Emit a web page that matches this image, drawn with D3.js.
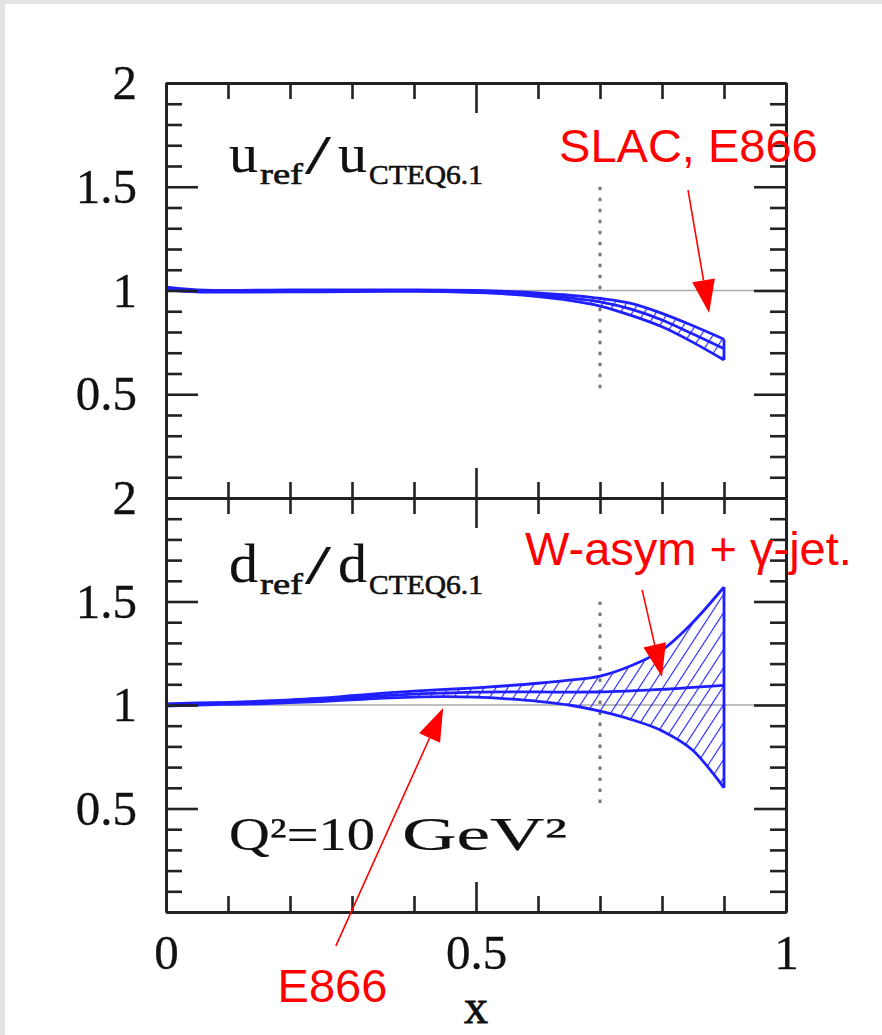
<!DOCTYPE html>
<html><head><meta charset="utf-8">
<script src="https://cdn.jsdelivr.net/npm/d3@7"></script>
<style>
html,body{margin:0;padding:0;background:#fff;}
svg{display:block;}
</style></head>
<body>
<svg id="chart" width="882" height="1035"></svg>
<script>
// ---------- data ----------
const xMajorTicks = [0, 0.5, 1];
const xMajorLabels = ["0", "0.5", "1"];
const yMajorTicks = [0.5, 1, 1.5, 2];
const yMajorLabels = ["0.5", "1", "1.5", "2"];

// u_ref / u_CTEQ6.1 band
const uX      = [0,     0.05,  0.1,   0.2,   0.3,   0.4,   0.5,   0.55,  0.6,   0.65,  0.7,   0.75,  0.8,   0.85,  0.9];
const uUpper  = [1.016, 1.003, 1.0,   1.003, 1.003, 1.003, 1.0,   0.996, 0.988, 0.978, 0.962, 0.938, 0.89,  0.83,  0.765];
const uCenter = [1.01,  0.998, 0.996, 0.998, 0.999, 1.0,   0.996, 0.99,  0.98,  0.965, 0.945, 0.91,  0.858, 0.79,  0.72];
const uLower  = [1.004, 0.993, 0.992, 0.993, 0.995, 0.996, 0.99,  0.983, 0.97,  0.952, 0.925, 0.88,  0.825, 0.75,  0.665];

// d_ref / d_CTEQ6.1 band
const dX      = [0,     0.05,  0.1,   0.15,  0.2,   0.25,  0.3,   0.35,  0.4,   0.45,  0.5,   0.55,  0.6,   0.65,  0.7,   0.75,  0.8,   0.85,  0.9];
const dUpper  = [1.005, 1.01,  1.013, 1.018, 1.025, 1.033, 1.045, 1.057, 1.067, 1.075, 1.083, 1.093, 1.105, 1.12,  1.14,  1.19,  1.265, 1.4,   1.57];
const dCenter = [1.0,   1.005, 1.008, 1.012, 1.018, 1.025, 1.035, 1.045, 1.053, 1.058, 1.062, 1.063, 1.063, 1.062, 1.063, 1.068, 1.075, 1.085, 1.095];
const dLower  = [0.995, 1.0,   1.003, 1.006, 1.011, 1.017, 1.025, 1.033, 1.038, 1.04,  1.038, 1.03,  1.018, 1.0,   0.97,  0.93,  0.875, 0.78,  0.6];

const cutX = 0.7;              // dotted vertical marker
const cutRange = [0.5, 1.5];

// annotation arrows (data units of their panel)
const annotations = [
  {text: "SLAC, E866",           panel: "u", tx: 0.634, ty: 1.62,   from: [0.842, 1.484],  to: [0.876, 0.892]},
  {text: "W-asym + \u03B3-jet.", panel: "d", tx: 0.579, ty: 1.675,  from: [0.768, 1.556],  to: [0.80, 1.135]},
  {text: "E866",                 panel: "d", tx: 0.18,  ty: -0.435, from: [0.274, -0.164], to: [0.447, 0.986]}
];

// ---------- layout ----------
const svg = d3.select("#chart");
const L = 166, R = 786;
const x = d3.scaleLinear().domain([0, 1]).range([L, R]);
const yU = d3.scaleLinear().domain([0, 2]).range([498, 83]);
const yD = d3.scaleLinear().domain([0, 2]).range([912, 498]);
const blue = "#1f1fff";
const ink = "#111";
const serif = "'Liberation Serif', 'Times New Roman', serif";
const sans = "'Liberation Sans', Arial, sans-serif";

// paper-like border
svg.append("rect").attr("x", 0).attr("y", 0).attr("width", 882).attr("height", 1035).attr("fill", "#fff");
svg.append("rect").attr("x", 0).attr("y", 0).attr("width", 5).attr("height", 1035).attr("fill", "#e4e4e4");
svg.append("rect").attr("x", 0).attr("y", 0).attr("width", 882).attr("height", 4).attr("fill", "#e4e4e4");

// hatch pattern
const defs = svg.append("defs");
const pat = defs.append("pattern").attr("id", "hatch").attr("patternUnits", "userSpaceOnUse")
  .attr("width", 10).attr("height", 10).attr("patternTransform", "rotate(33)");
pat.append("line").attr("x1", 0).attr("y1", 0).attr("x2", 0).attr("y2", 10)
  .attr("stroke", blue).attr("stroke-width", 2.2);

const minorX = d3.range(0, 1.0001, 0.1).map(v => +v.toFixed(2)).filter(v => !xMajorTicks.some(m => Math.abs(m - v) < 1e-6));
const minorY = d3.range(0, 2.0001, 0.1).map(v => +v.toFixed(2)).filter(v => !yMajorTicks.concat([0]).some(m => Math.abs(m - v) < 1e-6));

function styleAxis(g) {
  g.select(".domain").attr("stroke", "#222").attr("stroke-width", 2.8);
  g.selectAll(".tick line").attr("stroke", "#222").attr("stroke-width", 2.6);
  g.selectAll("text").attr("fill", ink).attr("font-family", serif).attr("font-size", 49)
    .attr("stroke", ink).attr("stroke-width", 0.3);
}

function drawPanel(y, xs, up, ce, lo, showX) {
  const y0 = y.range()[0], y1 = y.range()[1];
  svg.append("line").attr("x1", x(0)).attr("x2", x(1)).attr("y1", y(1)).attr("y2", y(1))
    .attr("stroke", "#aaa").attr("stroke-width", 1.6);
  svg.append("line").attr("x1", x(cutX)).attr("x2", x(cutX)).attr("y1", y(cutRange[1])).attr("y2", y(cutRange[0]))
    .attr("stroke", "#777").attr("stroke-width", 3).attr("stroke-dasharray", "3.5,7.5");

  const pts = xs.map((v, i) => ({x: v, u: up[i], c: ce[i], l: lo[i]}));
  const area = d3.area().x(d => x(d.x)).y0(d => y(d.l)).y1(d => y(d.u)).curve(d3.curveMonotoneX);
  svg.append("path").datum(pts).attr("d", area).attr("fill", "url(#hatch)").attr("stroke", "none");
  ["u", "c", "l"].forEach(k => {
    const line = d3.line().x(d => x(d.x)).y(d => y(d[k])).curve(d3.curveMonotoneX);
    svg.append("path").datum(pts).attr("d", line).attr("fill", "none")
      .attr("stroke", blue).attr("stroke-width", 2.8);
  });
  const last = pts[pts.length - 1];
  svg.append("line").attr("x1", x(last.x)).attr("x2", x(last.x)).attr("y1", y(last.u)).attr("y2", y(last.l))
    .attr("stroke", blue).attr("stroke-width", 2.8);

  svg.append("g").attr("transform", `translate(${L},0)`)
    .call(d3.axisLeft(y).tickValues(minorY).tickSize(-16).tickSizeOuter(0).tickFormat(""))
    .call(styleAxis);
  svg.append("g").attr("transform", `translate(${L},0)`)
    .call(d3.axisLeft(y).tickValues(yMajorTicks).tickSize(-32).tickSizeOuter(0).tickPadding(29)
      .tickFormat((d, i) => yMajorLabels[i]))
    .call(styleAxis);
  svg.append("g").attr("transform", `translate(${R},0)`)
    .call(d3.axisRight(y).tickValues(minorY).tickSize(-16).tickSizeOuter(0).tickFormat(""))
    .call(styleAxis);
  svg.append("g").attr("transform", `translate(${R},0)`)
    .call(d3.axisRight(y).tickValues(yMajorTicks).tickSize(-32).tickSizeOuter(0).tickFormat(""))
    .call(styleAxis);
  svg.append("g").attr("transform", `translate(0,${y1})`)
    .call(d3.axisTop(x).tickValues(minorX).tickSize(-16).tickSizeOuter(0).tickFormat(""))
    .call(styleAxis);
  svg.append("g").attr("transform", `translate(0,${y1})`)
    .call(d3.axisTop(x).tickValues(xMajorTicks).tickSize(-30).tickSizeOuter(0).tickFormat(""))
    .call(styleAxis);
  svg.append("g").attr("transform", `translate(0,${y0})`)
    .call(d3.axisBottom(x).tickValues(minorX).tickSize(-16).tickSizeOuter(0).tickFormat(""))
    .call(styleAxis);
  svg.append("g").attr("transform", `translate(0,${y0})`)
    .call(d3.axisBottom(x).tickValues(xMajorTicks).tickSize(-30).tickSizeOuter(0).tickPadding(22)
      .tickFormat((d, i) => showX ? xMajorLabels[i] : ""))
    .call(styleAxis);
}

drawPanel(yU, uX, uUpper, uCenter, uLower, false);
drawPanel(yD, dX, dUpper, dCenter, dLower, true);

// text helper (serif)
function stext(str, px, py, size, opts = {}) {
  const t = svg.append("text").attr("x", px).attr("y", py).attr("font-family", serif)
    .attr("font-size", size).attr("fill", ink).attr("stroke", ink).attr("stroke-width", opts.sw ?? 0.2)
    .text(str);
  if (opts.len) t.attr("textLength", opts.len).attr("lengthAdjust", "spacingAndGlyphs");
  if (opts.anchor) t.attr("text-anchor", opts.anchor);
  return t;
}

function ratioLabel(letter, baseY) {
  stext(letter, 229, baseY, 54, {len: 29});
  stext("ref", 260, baseY + 12, 30, {len: 43, sw: 0.6});
  stext("/", 305, baseY + 1, 54, {len: 26});
  stext(letter, 338, baseY, 54, {len: 29});
  stext("CTEQ6.1", 369, baseY + 12, 27, {len: 114, sw: 0.6});
}
ratioLabel("u", 172);
ratioLabel("d", 582);

stext("Q\u00B2=10", 229, 850, 46, {len: 146});
stext("GeV\u00B2", 402, 850, 46, {len: 165});

stext("x", x(0.5), 1023, 48, {anchor: "middle", sw: 0.8});

// annotations
annotations.forEach(a => {
  const y = a.panel === "u" ? yU : yD;
  const sx = x(a.from[0]), sy = y(a.from[1]), tx = x(a.to[0]), ty = y(a.to[1]);
  const dx = sx - tx, dy = sy - ty, len = Math.hypot(dx, dy);
  const ux = dx / len, uy = dy / len;
  const hl = 33, hw = 11.5;
  const bx = tx + ux * hl, by = ty + uy * hl;
  svg.append("line").attr("x1", sx).attr("y1", sy).attr("x2", bx).attr("y2", by)
    .attr("stroke", "#ff0000").attr("stroke-width", 1.6);
  svg.append("path").attr("d", `M${tx},${ty}L${bx - uy * hw},${by + ux * hw}L${bx + uy * hw},${by - ux * hw}Z`)
    .attr("fill", "#ff0000");
  svg.append("text").attr("x", x(a.tx)).attr("y", y(a.ty)).attr("font-family", sans)
    .attr("font-size", 47).attr("fill", "#ff0000").text(a.text);
});
</script>
</body></html>
